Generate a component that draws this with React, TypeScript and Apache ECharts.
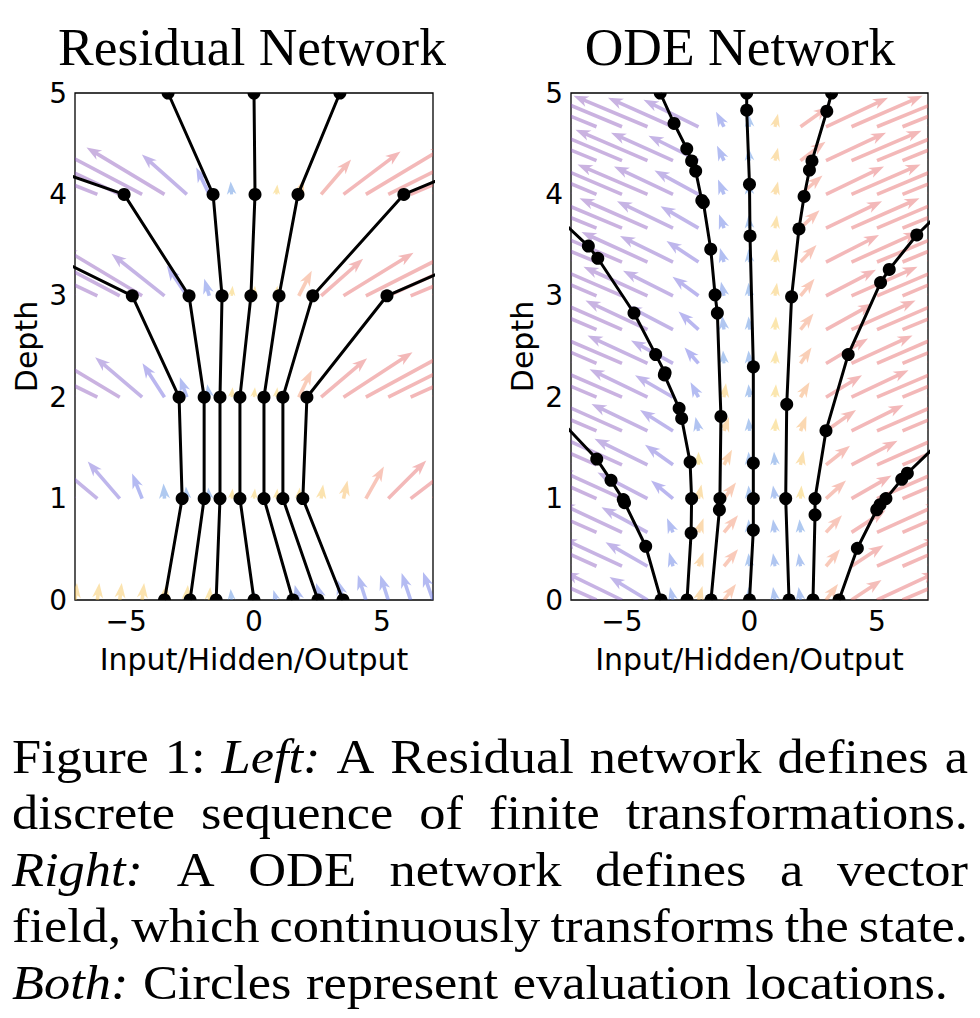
import React, { useEffect, useRef } from "react";
import * as echarts from "echarts";

// ---------------- data ----------------
const LEFT_TITLE = "Residual Network";
const RIGHT_TITLE = "ODE Network";
const X_LABEL = "Input/Hidden/Output";
const Y_LABEL = "Depth";
const X_TICKS = [-5, 0, 5];

// Residual network: quiver grid (tails), components in screen points
const LEFT_COLS = [-7, -6.125, -5.25, -4.375, -3.5, -2.625, -1.75, -0.875, 0, 0.875, 1.75, 2.625, 3.5, 4.375, 5.25, 6.125, 7];
const LEFT_ROWS = [0, 1, 2, 3, 4];
const LEFT_U = [
  [2, 2, 2, 2, 2, 1, 1, -1, -1, -3, -4, -5, -6, -8, -8, -9, -10],
  [-60, -48, -32, -10, -1, -1, -1, 1, 1, 1, 1, 2, 4, 18, 38, 55, 70],
  [-110, -95, -75, -47, -22, -7, -2, 1, 1, 1, 13, 46, 69, 88, 100, 110, 120],
  [-120, -105, -95, -80, -53, -20, -5, 1, 1, 1, 13, 42, 70, 95, 110, 120, 125],
  [-130, -125, -110, -95, -78, -45, -13, -1, 1, 1, 5, 30, 57, 80, 100, 115, 125],
];
const LEFT_V = [
  [17, 17, 17, 17, 16, 15, 13, 11, 11, 10, 15, 17, 20, 25, 25, 27, 28],
  [44, 40, 37, 25, 15, 12, 11, 10, 10, 10, 11, 14, 18, 32, 38, 42, 45],
  [48, 47, 45, 40, 34, 20, 13, 10, 10, 10, 27, 39, 45, 48, 50, 50, 50],
  [50, 50, 50, 48, 42, 30, 17, 10, 10, 10, 25, 37, 43, 48, 50, 50, 50],
  [50, 50, 52, 50, 47, 40, 27, 13, 10, 10, 15, 35, 43, 48, 50, 50, 50],
];

// ODE network: quiver grid, one list per column (rows bottom to top)
const RIGHT_COLS = [-7, -6, -5, -4, -3, -2, -1, 0, 1, 2, 3, 4, 5, 6, 7];
const RIGHT_ROWS = [0, 0.333, 0.667, 1, 1.333, 1.667, 2, 2.333, 2.667, 3, 3.333, 3.667, 4, 4.333, 4.667];
const RIGHT_U_BY_COL = [
  [-70, -72, -74, -76, -76, -77, -78, -80, -80, -81, -82, -82, -84, -85, -86],
  [-66, -67, -68, -70, -71, -72, -73, -74, -75, -76, -77, -78, -79, -80, -81],
  [-58, -60, -62, -64, -66, -67, -69, -70, -71, -72, -73, -74, -75, -76, -77],
  [-38, -42, -46, -50, -53, -56, -58, -60, -62, -64, -66, -68, -70, -72, -74],
  [-3, -4, -6, -22, -28, -33, -38, -42, -46, -50, -53, -56, -59, -62, -65],
  [4, 5, 5, 3, 0, -3, -8, -14, -20, -26, -32, -38, -44, -50, -55],
  [12, 14, 14, 12, 8, 5, 2, -1, -2, -3, -4, -5, -6, -7, -8],
  [-1, -1, -1, -1, -1, -1, -1, -1, -1, -1, -1, -1, -1, -1, -1],
  [-2, -2, -2, -2, -1, 1, 1, 1, 1, 2, 2, 2, 3, 3, 3],
  [-2, -2, -1, 1, 3, 6, 9, 11, 13, 14, 16, 19, 22, 25, 28],
  [12, 14, 16, 20, 24, 30, 36, 42, 47, 50, 53, 56, 58, 60, 62],
  [30, 32, 34, 40, 46, 52, 57, 61, 64, 66, 67, 68, 69, 70, 71],
  [60, 62, 64, 66, 68, 69, 70, 71, 72, 73, 74, 75, 76, 77, 78],
  [70, 71, 72, 73, 74, 75, 76, 77, 78, 79, 80, 81, 82, 83, 84],
  [76, 77, 78, 79, 80, 81, 82, 83, 84, 85, 86, 87, 88, 89, 90],
];
const RIGHT_V_BY_COL = [
  [31, 31, 32, 32, 32, 32, 33, 33, 33, 33, 33, 34, 34, 34, 34],
  [30, 30, 30, 31, 31, 31, 31, 32, 32, 32, 32, 32, 33, 33, 33],
  [28, 28, 29, 29, 30, 30, 30, 30, 31, 31, 31, 31, 32, 32, 32],
  [23, 24, 25, 26, 26, 27, 28, 28, 29, 29, 30, 30, 30, 31, 31],
  [13, 14, 14, 18, 20, 21, 22, 23, 24, 25, 26, 27, 28, 28, 29],
  [14, 14, 14, 14, 13, 14, 15, 16, 18, 19, 21, 22, 24, 25, 27],
  [16, 17, 17, 16, 15, 14, 14, 13, 14, 14, 14, 14, 15, 15, 15],
  [13, 13, 13, 13, 13, 13, 13, 13, 13, 13, 13, 13, 13, 13, 13],
  [13, 13, 13, 13, 13, 13, 13, 13, 13, 13, 13, 13, 13, 13, 13],
  [13, 13, 13, 13, 14, 15, 15, 16, 16, 17, 17, 18, 19, 19, 20],
  [16, 17, 17, 18, 19, 21, 22, 25, 26, 26, 27, 27, 28, 28, 29],
  [20, 21, 22, 23, 24, 26, 27, 28, 29, 29, 30, 30, 30, 30, 31],
  [28, 28, 29, 29, 30, 30, 30, 31, 31, 31, 31, 32, 32, 32, 32],
  [30, 31, 31, 31, 31, 32, 32, 32, 32, 33, 33, 33, 33, 34, 34],
  [32, 32, 32, 33, 33, 33, 33, 34, 34, 34, 34, 34, 34, 34, 34],
];

// Residual network hidden states per layer (x, depth)
const LEFT_PATHS = [
  [[-3.5, 0], [-2.81, 1], [-2.93, 2], [-4.76, 3], [-12.8, 4]],
  [[-2.5, 0], [-1.95, 1], [-1.95, 2], [-2.54, 3], [-5.08, 4], [-16.5, 5]],
  [[-1.48, 0], [-1.33, 1], [-1.33, 2], [-1.25, 3], [-1.6, 4], [-3.36, 5]],
  [[0, 0], [-0.55, 1], [-0.55, 2], [-0.12, 3], [0.04, 4], [0, 5]],
  [[1.52, 0], [0.39, 1], [0.39, 2], [0.98, 3], [1.72, 4], [3.36, 5]],
  [[2.5, 0], [1.13, 1], [1.13, 2], [2.3, 3], [5.86, 4], [15.4, 5]],
  [[3.48, 0], [1.91, 1], [2.07, 2], [5.2, 3], [14.3, 4]],
];

// ODE network evaluation locations
const RIGHT_PATHS = [
  [[-3.47, 0], [-4.07, 0.53], [-4.9, 0.96], [-4.95, 0.99], [-5.43, 1.18], [-5.99, 1.39]],
  [[-2.45, 0], [-2.29, 0.66], [-2.27, 1.0], [-2.33, 1.36], [-2.66, 1.79], [-2.76, 1.89], [-3.34, 2.22], [-3.31, 2.24], [-3.68, 2.42], [-4.53, 2.83], [-5.95, 3.37], [-6.32, 3.49]],
  [[-1.51, 0], [-1.18, 0.89], [-1.16, 1.0], [-1.12, 1.81], [-1.26, 2.83], [-1.35, 3.01], [-1.52, 3.46], [-1.81, 3.92], [-1.87, 3.94], [-2.11, 4.23], [-2.27, 4.33], [-2.46, 4.45], [-2.96, 4.7], [-3.5, 5.0]],
  [[0, 0], [0.15, 0.69], [0.15, 1.0], [0.15, 1.35], [0.15, 2.3], [0.02, 3.59], [0, 4.1], [-0.11, 4.83], [-0.11, 5.0]],
  [[1.55, 0], [1.42, 1.0], [1.46, 1.93], [1.65, 2.99], [1.94, 3.66], [2.14, 3.98], [2.35, 4.24], [2.45, 4.33], [3.03, 4.82], [3.22, 5.0]],
  [[2.49, 0], [2.57, 0.84], [2.57, 1.0], [3.0, 1.67], [3.87, 2.42], [5.14, 3.13], [5.48, 3.26], [6.56, 3.6]],
  [[3.51, 0], [4.23, 0.51], [4.99, 0.89], [5.12, 0.94], [5.35, 1.0], [5.97, 1.19], [6.19, 1.25]],
];
// where each ODE trajectory leaves the frame (null: ends inside)
const RIGHT_EXITS = [[-7.3, 1.74], [-7.3, 3.72], null, null, null, [7.3, 3.78], [7.3, 1.52]];

const CAPTION_LINES: [string, boolean][][] = [
  [["Figure", false], ["1:", false], ["Left:", true], ["A", false], ["Residual", false], ["network", false], ["defines", false], ["a", false]],
  [["discrete", false], ["sequence", false], ["of", false], ["finite", false], ["transformations.", false]],
  [["Right:", true], ["A", false], ["ODE", false], ["network", false], ["defines", false], ["a", false], ["vector", false]],
  [["field,", false], ["which", false], ["continuously", false], ["transforms", false], ["the", false], ["state.", false]],
  [["Both:", true], ["Circles", false], ["represent", false], ["evaluation", false], ["locations.", false]],
];

// ---------------- styling ----------------
const SANS = "DejaVu Sans";
const SERIF = "Liberation Serif";
const GRIDS = [
  { left: 75, top: 93, width: 358, height: 507 },
  { left: 571, top: 93, width: 357, height: 507 },
];
const TITLE_CENTERS = [252, 740];
const TITLE_SIZE = 53.5;
const QUIVER_SCALE = 1; // px per quiver unit
const SHAFT = 3.6;
const HEAD_L = 15;
const HEAD_W = 11;
const HEAD_AXIS = 12;
const ARROW_ALPHA = 0.44;
const NEG_STOPS: [number, number[]][] = [
  [-300, [135, 80, 185]],
  [-70, [135, 80, 185]],
  [-40, [115, 88, 205]],
  [-15, [90, 90, 225]],
  [-4, [80, 110, 225]],
  [0, [70, 140, 220]],
];
const POS_STOPS: [number, number[]][] = [
  [0, [245, 205, 70]],
  [5, [245, 170, 75]],
  [15, [240, 130, 100]],
  [35, [228, 95, 95]],
  [300, [225, 85, 90]],
];

function arrowColor(u: number): string {
  const stops = u < 0 ? NEG_STOPS : POS_STOPS;
  let c = stops[stops.length - 1][1];
  for (let i = 0; i < stops.length - 1; i++) {
    const [a, ca] = stops[i];
    const [b, cb] = stops[i + 1];
    if (u >= a && u <= b) {
      const t = (u - a) / (b - a);
      c = ca.map((v, j) => Math.round(v + (cb[j] - v) * t));
      break;
    }
  }
  return `rgba(${c[0]},${c[1]},${c[2]},${ARROW_ALPHA})`;
}

function fmtTick(v: number): string {
  if (!X_TICKS.includes(v)) return "";
  return v < 0 ? "\u2212" + Math.abs(v) : String(v);
}

function arrowRender(params: any, api: any) {
  const x = api.value(0), y = api.value(1), u = api.value(2), v = api.value(3);
  const p = api.coord([x, y]);
  const dx = u * QUIVER_SCALE, dy = -v * QUIVER_SCALE;
  const L = Math.hypot(dx, dy);
  if (L < 0.5) return null;
  const ux = dx / L, uy = dy / L;
  const nx = -uy, ny = ux;
  let w = SHAFT, hl = HEAD_L, hw = HEAD_W, hal = HEAD_AXIS;
  if (L < hl) {
    const s = L / hl;
    w *= s; hl *= s; hw *= s; hal *= s;
  }
  const local = [
    [0, -w / 2], [L - hal, -w / 2], [L - hl, -hw / 2], [L, 0],
    [L - hl, hw / 2], [L - hal, w / 2], [0, w / 2],
  ];
  const pts = local.map(([a, b]) => [p[0] + a * ux + b * nx, p[1] + a * uy + b * ny]);
  return { type: "polygon", shape: { points: pts }, style: { fill: arrowColor(u) } };
}

function dotRender(params: any, api: any) {
  const p = api.coord([api.value(0), api.value(1)]);
  return { type: "circle", shape: { cx: p[0], cy: p[1], r: 6.5 }, style: { fill: "#000" } };
}

function buildOption() {
  const leftArrows: number[][] = [];
  LEFT_ROWS.forEach((y, r) => LEFT_COLS.forEach((x, c) => leftArrows.push([x, y, LEFT_U[r][c], LEFT_V[r][c]])));
  const rightArrows: number[][] = [];
  RIGHT_COLS.forEach((x, c) => RIGHT_ROWS.forEach((y, r) => rightArrows.push([x, y, RIGHT_U_BY_COL[c][r], RIGHT_V_BY_COL[c][r]])));

  const series: any[] = [];
  series.push({ type: "custom", xAxisIndex: 0, yAxisIndex: 0, clip: true, silent: true, z: 1, data: leftArrows, renderItem: arrowRender });
  series.push({ type: "custom", xAxisIndex: 1, yAxisIndex: 1, clip: true, silent: true, z: 1, data: rightArrows, renderItem: arrowRender });
  LEFT_PATHS.forEach((path) =>
    series.push({ type: "line", xAxisIndex: 0, yAxisIndex: 0, data: path, symbol: "none", clip: true, silent: true, z: 3, lineStyle: { color: "#000", width: 3 } })
  );
  RIGHT_PATHS.forEach((path, i) => {
    const d = RIGHT_EXITS[i] ? [...path, RIGHT_EXITS[i]] : path;
    series.push({ type: "line", xAxisIndex: 1, yAxisIndex: 1, data: d, symbol: "none", clip: true, silent: true, z: 3, lineStyle: { color: "#000", width: 3 } });
  });
  series.push({ type: "custom", xAxisIndex: 0, yAxisIndex: 0, clip: true, silent: true, z: 4, data: LEFT_PATHS.flat(), renderItem: dotRender });
  series.push({ type: "custom", xAxisIndex: 1, yAxisIndex: 1, clip: true, silent: true, z: 4, data: RIGHT_PATHS.flat(), renderItem: dotRender });

  const axisText = { fontFamily: SANS, color: "#000" };
  const xAxis = GRIDS.map((_, i) => ({
    type: "value", gridIndex: i, min: -7, max: 7, interval: 1,
    axisLine: { show: false }, axisTick: { show: false }, splitLine: { show: false },
    axisLabel: { ...axisText, fontSize: 28, margin: 7, formatter: fmtTick },
    name: X_LABEL, nameLocation: "middle", nameGap: 44,
    nameTextStyle: { ...axisText, fontSize: 30 },
  }));
  const yAxis = GRIDS.map((_, i) => ({
    type: "value", gridIndex: i, min: 0, max: 5, interval: 1,
    axisLine: { show: false }, axisTick: { show: false }, splitLine: { show: false },
    axisLabel: { ...axisText, fontSize: 28, margin: 8 },
    name: Y_LABEL, nameLocation: "middle", nameGap: 34, nameRotate: 90,
    nameTextStyle: { ...axisText, fontSize: 30 },
  }));

  // caption layout (justified)
  const canvas = document.createElement("canvas");
  const ctx = canvas.getContext("2d")!;
  const CAP_SIZE = 49;
  const CAP_SX = 1.07;
  const graphic: any[] = [];
  const titleY = 65 - 0.3375 * TITLE_SIZE;
  [LEFT_TITLE, RIGHT_TITLE].forEach((t, i) =>
    graphic.push({ type: "text", x: TITLE_CENTERS[i], y: titleY, style: { text: t, fontSize: TITLE_SIZE, fontFamily: SERIF, fill: "#000", align: "center", verticalAlign: "middle", textAlign: "center", textVerticalAlign: "middle" } })
  );
  CAPTION_LINES.forEach((words, li) => {
    const left = 12;
    const right = li === CAPTION_LINES.length - 1 ? 948 : 968;
    const widths = words.map(([w, it]) => {
      ctx.font = `${it ? "italic " : ""}${CAP_SIZE}px "${SERIF}"`;
      return ctx.measureText(w).width * CAP_SX;
    });
    const total = widths.reduce((a, b) => a + b, 0);
    const gap = (right - left - total) / (words.length - 1);
    const midY = 773 + li * 56.5 - 0.3375 * CAP_SIZE;
    let x = left;
    words.forEach(([w, it], i) => {
      graphic.push({ type: "text", x, y: midY, scaleX: CAP_SX, scaleY: 1, style: { text: w, x: 0, y: 0, fontSize: CAP_SIZE, fontFamily: SERIF, fontStyle: it ? "italic" : "normal", fill: "#000", align: "left", verticalAlign: "middle", textAlign: "left", textVerticalAlign: "middle" } });
      x += widths[i] + gap;
    });
  });

  return {
    animation: false,
    backgroundColor: "#fff",
    grid: GRIDS.map((g) => ({ ...g, show: true, borderColor: "#000", borderWidth: 1.3, backgroundColor: "transparent", containLabel: false, outerBoundsMode: "none" })),
    xAxis,
    yAxis,
    series,
    graphic,
  };
}

export default function App() {
  const ref = useRef<HTMLDivElement>(null);
  useEffect(() => {
    const el = ref.current!;
    const chart = echarts.init(el, null, { renderer: "svg" });
    chart.setOption(buildOption() as any);
    return () => chart.dispose();
  }, []);
  return <div ref={ref} style={{ position: "absolute", left: 0, top: 0, width: 980, height: 1018, background: "#fff" }} />;
}
